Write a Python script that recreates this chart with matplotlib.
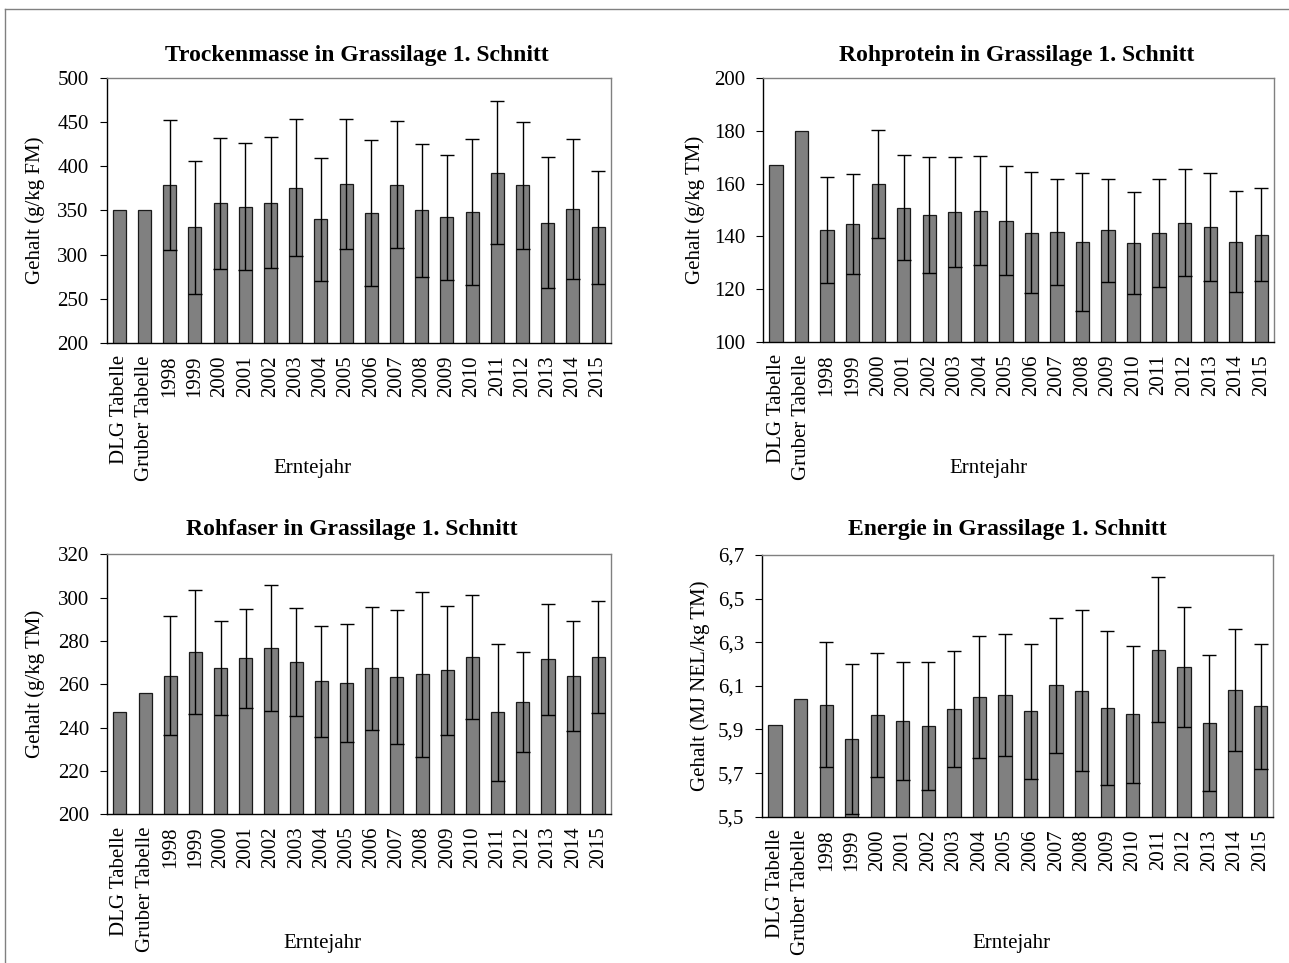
import matplotlib
matplotlib.use("Agg")
import matplotlib.pyplot as plt
from matplotlib.ticker import FuncFormatter, FixedLocator
from matplotlib.lines import Line2D

plt.rcParams['font.family'] = ['Liberation Serif', 'DejaVu Serif']

categories = ["DLG Tabelle", "Gruber Tabelle", "1998", "1999", "2000", "2001", "2002",
              "2003", "2004", "2005", "2006", "2007", "2008", "2009", "2010", "2011",
              "2012", "2013", "2014", "2015"]

tm_mean = [350, 350, 379, 331, 358, 354.5, 359, 376, 340, 380, 347, 379.5, 350, 342.5,
           348.5, 393, 378.5, 336, 351.5, 331]
tm_sd = [None, None, 74, 75.4, 74.8, 72.4, 74.3, 77.7, 70, 73.3, 82.6, 72.5, 76, 71,
         82.7, 81, 72.2, 74.3, 79.7, 64]
tm_ticks = [200, 250, 300, 350, 400, 450, 500]

rp_mean = [167, 180, 142.5, 144.6, 160, 150.9, 148.2, 149.4, 149.8, 145.9, 141.4, 141.8,
           137.7, 142.3, 137.5, 141.3, 145.2, 143.5, 138, 140.6]
rp_sd = [None, None, 20.2, 18.9, 20.5, 19.9, 22.1, 20.9, 20.8, 20.7, 22.9, 20.1, 26.2,
         19.5, 19.4, 20.5, 20.3, 20.5, 19.3, 17.7]
rp_ticks = [100, 120, 140, 160, 180, 200]

rf_mean = [247, 256, 264, 275, 267.5, 272, 276.8, 270.3, 261.4, 260.6, 267.4, 263.4,
           264.6, 266.5, 272.5, 247.1, 251.8, 271.5, 263.7, 272.6]
rf_sd = [None, None, 27.6, 28.7, 21.9, 22.9, 28.9, 24.8, 25.7, 27.4, 28.5, 30.8, 38.1,
         29.7, 28.7, 31.6, 22.9, 25.7, 25.3, 25.8]
rf_ticks = [200, 220, 240, 260, 280, 300, 320]

nel_mean = [5.92, 6.04, 6.014, 5.856, 5.965, 5.939, 5.916, 5.995, 6.049, 6.06, 5.983,
            6.103, 6.078, 6.0, 5.97, 6.266, 6.187, 5.928, 6.08, 6.006]
nel_sd = [None, None, 0.285, 0.345, 0.285, 0.269, 0.295, 0.265, 0.279, 0.28, 0.308,
          0.31, 0.369, 0.353, 0.314, 0.334, 0.276, 0.312, 0.28, 0.287]
nel_ticks = [5.5, 5.7, 5.9, 6.1, 6.3, 6.5, 6.7]

W, H = 1289, 963
fig = plt.figure(figsize=(W / 100, H / 100), dpi=100)

def rect(l, r, t, b):
    return [l / W, 1 - b / H, (r - l) / W, (b - t) / H]

panels = [
    dict(rect=rect(106.7, 610.7, 78.3, 342.7), mean=tm_mean, sd=tm_sd, ticks=tm_ticks,
         title="Trockenmasse in Grassilage 1. Schnitt", title_xy=(357, 55),
         ylabel="Gehalt (g/kg FM)", ylab_x=35,
         fmt=lambda v, p: f"{v:.0f}", xlab_xy=(312, 468)),
    dict(rect=rect(763.3, 1274, 78.3, 341.7), mean=rp_mean, sd=rp_sd, ticks=rp_ticks,
         title="Rohprotein in Grassilage 1. Schnitt", title_xy=(1017, 55),
         ylabel="Gehalt (g/kg TM)", ylab_x=695,
         fmt=lambda v, p: f"{v:.0f}", xlab_xy=(988, 468)),
    dict(rect=rect(107.3, 611, 554.3, 814.3), mean=rf_mean, sd=rf_sd, ticks=rf_ticks,
         title="Rohfaser in Grassilage 1. Schnitt", title_xy=(352, 530),
         ylabel="Gehalt (g/kg TM)", ylab_x=35,
         fmt=lambda v, p: f"{v:.0f}", xlab_xy=(322, 943)),
    dict(rect=rect(762.3, 1273.3, 555, 816.7), mean=nel_mean, sd=nel_sd, ticks=nel_ticks,
         title="Energie in Grassilage 1. Schnitt", title_xy=(1007, 530),
         ylabel="Gehalt (MJ NEL/kg TM)", ylab_x=700,
         fmt=lambda v, p: f"{v:.1f}".replace(".", ","), xlab_xy=(1011, 943)),
]

for p in panels:
    ax = fig.add_axes(p["rect"])
    x = list(range(len(categories)))
    ax.bar(x, p["mean"], width=0.52, color="#808080", edgecolor="#1a1a1a",
           linewidth=0.9, zorder=2)
    ex = [i for i, s in enumerate(p["sd"]) if s is not None]
    ax.errorbar([x[i] for i in ex], [p["mean"][i] for i in ex],
                yerr=[p["sd"][i] for i in ex], fmt="none", ecolor="black",
                elinewidth=1.0, capsize=5, capthick=1.0, zorder=3)
    ax.set_xlim(-0.5, len(categories) - 0.5)
    ax.set_ylim(p["ticks"][0], p["ticks"][-1])
    ax.yaxis.set_major_locator(FixedLocator(p["ticks"]))
    ax.yaxis.set_major_formatter(FuncFormatter(p["fmt"]))
    ax.set_xticks(x)
    ax.set_xticklabels(categories, rotation=90, fontsize=15)
    ax.tick_params(axis="x", length=0, pad=9)
    ax.tick_params(axis="y", length=5, width=0.8, pad=8, labelsize=15, direction="out")
    for side in ("left", "bottom"):
        ax.spines[side].set_color("black")
        ax.spines[side].set_linewidth(1.0)
    for side in ("top", "right"):
        ax.spines[side].set_color("#808080")
        ax.spines[side].set_linewidth(1.0)
    fig.text(p["title_xy"][0] / W, 1 - p["title_xy"][1] / H, p["title"],
             ha="center", va="center", fontsize=17, fontweight="bold")
    fig.text(p["xlab_xy"][0] / W, 1 - p["xlab_xy"][1] / H, "Erntejahr",
             ha="center", va="center", fontsize=15)
    cy = p["rect"][1] + p["rect"][3] / 2
    fig.text(p["ylab_x"] / W, cy, p["ylabel"], rotation=90,
             ha="center", va="center", fontsize=15)

# outer frame lines
fig.add_artist(Line2D([5 / W, 5 / W], [0, 1 - 9.3 / H], transform=fig.transFigure,
                      color="#808080", linewidth=1.0))
fig.add_artist(Line2D([5 / W, 1], [1 - 9.3 / H, 1 - 9.3 / H], transform=fig.transFigure,
                      color="#808080", linewidth=1.0))

fig.savefig("out.png", dpi=100)
